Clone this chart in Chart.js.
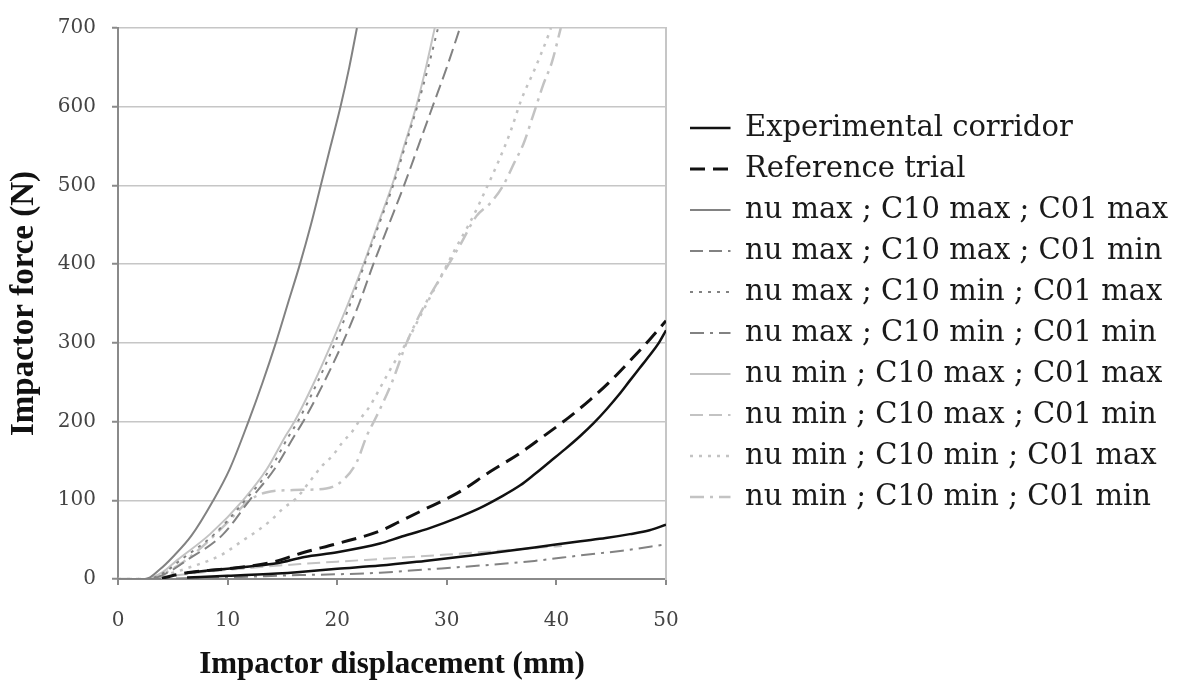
<!DOCTYPE html>
<html>
<head>
<meta charset="utf-8">
<script src="https://cdn.jsdelivr.net/npm/chart.js@4.4.1/dist/chart.umd.min.js"></script>
<style>
html,body{margin:0;padding:0;background:#fff;}
#wrap{width:1198px;height:689px;}
</style>
</head>
<body>
<div id="wrap"><canvas id="c" width="1198" height="689"></canvas></div>
<script>
// ---------- tick labels ----------
const xTickValues = [0, 10, 20, 30, 40, 50];
const xTickLabels = ['0', '10', '20', '30', '40', '50'];
const yTickValues = [0, 100, 200, 300, 400, 500, 600, 700];
const yTickLabels = ['0', '100', '200', '300', '400', '500', '600', '700'];

// ---------- series labels ----------
const seriesLabels = [
  'Experimental corridor',
  'Experimental corridor',
  'Reference trial',
  'nu max ; C10 max ; C01 max',
  'nu max ; C10 max ; C01 min',
  'nu max ; C10 min ; C01 max',
  'nu max ; C10 min ; C01 min',
  'nu min ; C10 max ; C01 max',
  'nu min ; C10 max ; C01 min',
  'nu min ; C10 min ; C01 max',
  'nu min ; C10 min ; C01 min'
];

// ---------- series values (displacement mm, force N) ----------
const corridorUpperX = [6.3, 8.4, 10, 12, 14.5, 17, 20, 23.9, 25.7, 28.5, 31, 33, 34.9, 36.7, 38, 39.4, 40.8, 42.2, 43.4, 44.6, 45.7, 46.7, 47.6, 48.5, 49.3, 50];
const corridorUpperY = [8, 11, 13, 16, 20, 28, 34, 45, 53, 65, 78, 90, 104, 119, 133, 149, 165, 182, 198, 216, 234, 252, 268, 284, 299, 316];

const corridorLowerX = [6.3, 10, 14.5, 16.6, 20, 23.9, 28, 33, 38, 42.2, 44.5, 46.7, 48.5, 50];
const corridorLowerY = [2, 4, 7, 9, 13, 17, 23, 31, 40, 48, 52, 57, 62, 69];

const referenceX = [4, 6.3, 10, 14, 17, 20, 23.9, 25.7, 27.6, 31.2, 33.9, 36.7, 38.5, 41.2, 43.1, 44.9, 46.7, 48.5, 50];
const referenceY = [1, 8, 13, 21, 34, 45, 61, 73, 86, 111, 136, 160, 178, 206, 228, 251, 277, 304, 328];

const nuMaxC10MaxC01MaxX = [0, 2.5, 3.8, 5.0, 6.7, 8.7, 10.2, 11.9, 13.2, 14.4, 15.5, 16.6, 17.6, 18.5, 19.4, 20.3, 21.1, 21.8];
const nuMaxC10MaxC01MaxY = [0, 0, 12, 28, 55, 100, 140, 200, 250, 300, 350, 400, 450, 500, 550, 600, 650, 700];

const clusterY = [0, 0, 8, 24, 57, 100, 140, 182, 200, 250, 300, 350, 400, 450, 500, 550, 600, 650, 700];
const nuMaxC10MaxC01MinX = [0, 2.8, 4.5, 6.3, 9.6, 12.0, 14.3, 16.1, 16.9, 18.8, 20.5, 22.0, 23.3, 24.7, 26.1, 27.4, 28.7, 30.0, 31.2];
const nuMaxC10MinC01MaxX = [0, 2.7, 4.2, 5.7, 8.8, 11.6, 13.9, 15.6, 16.4, 18.2, 19.8, 21.2, 22.5, 23.8, 25.1, 26.2, 27.3, 28.3, 29.2];
const nuMinC10MaxC01MaxX = [0, 2.5, 4.0, 5.4, 8.4, 11.4, 13.6, 15.3, 16.1, 17.9, 19.5, 21.0, 22.4, 23.7, 25.0, 26.1, 27.2, 28.1, 28.9];

const nuMaxC10MinC01MinX = [0, 3, 6, 10, 16.6, 20, 23.9, 28, 33, 38, 42.2, 46, 50];
const nuMaxC10MinC01MinY = [0, 0, 1, 2, 5, 6, 8, 12, 17, 23, 30, 36, 44];

const nuMinC10MaxC01MinX = [0, 3, 5, 8, 12, 16.6, 20, 25.7, 30, 34.9, 38.5, 40.5];
const nuMinC10MaxC01MinY = [0, 0, 4, 9, 14, 19, 22, 27, 31, 36, 40, 42];

const nuMinC10MinC01MaxX = [0, 2.5, 4, 5.5, 7, 8.4, 9.6, 11.4, 12.7, 13.9, 15.1, 16.3, 17.5, 18.7, 19.6, 20.5, 21.3, 22.2, 23.0, 24.0, 25.0, 26.3, 27.8, 29.3, 30.8, 32.0, 32.8, 33.5, 34.7, 35.8, 36.8, 38.0, 39.3, 39.5];
const nuMinC10MinC01MaxY = [0, 0, 4, 10, 17, 24, 32, 49, 61, 74, 90, 103, 124, 145, 157, 174, 186, 205, 220, 245, 270, 300, 340, 380, 420, 450, 472, 493, 530, 568, 609, 647, 692, 700];

const nuMinC10MinC01MinX = [0, 2.5, 4, 6, 8, 10, 12, 13.5, 16, 19, 20.4, 21.8, 22.7, 23.6, 25, 26.3, 27.5, 28.5, 30.3, 31.2, 32.7, 34, 35.1, 36.2, 37, 37.9, 38.8, 39.6, 40.4];
const nuMinC10MinC01MinY = [0, 0, 6, 22, 45, 72, 100, 110, 113, 115, 124, 149, 182, 207, 250, 299, 335, 361, 403, 424, 461, 478, 499, 530, 553, 590, 628, 657, 700];

// ---------- helpers ----------
const toPts = (xs, ys) => xs.map((x, i) => ({x: x, y: ys[i]}));

const BLACK = '#111111';
const DARK = '#828282';
const LIGHT = '#c3c3c3';
const DASH = [13, 6];
const DOT = [3, 6];
const DASHDOT = [14, 6, 3, 6];

function ds(i, xs, ys, color, width, dash) {
  return {
    label: seriesLabels[i],
    data: toPts(xs, ys),
    borderColor: color,
    backgroundColor: color,
    borderWidth: width,
    borderDash: dash,
    pointRadius: 0,
    pointHoverRadius: 0,
    fill: false,
    cubicInterpolationMode: 'monotone'
  };
}

const datasets = [
  ds(0, corridorUpperX, corridorUpperY, BLACK, 2.5, []),
  ds(1, corridorLowerX, corridorLowerY, BLACK, 2.5, []),
  ds(2, referenceX, referenceY, BLACK, 3, [15, 8]),
  ds(3, nuMaxC10MaxC01MaxX, nuMaxC10MaxC01MaxY, DARK, 2, []),
  ds(4, nuMaxC10MaxC01MinX, clusterY, DARK, 2, DASH),
  ds(5, nuMaxC10MinC01MaxX, clusterY, DARK, 2, DOT),
  ds(6, nuMaxC10MinC01MinX, nuMaxC10MinC01MinY, DARK, 2, DASHDOT),
  ds(7, nuMinC10MaxC01MaxX, clusterY, LIGHT, 2, []),
  ds(8, nuMinC10MaxC01MinX, nuMinC10MaxC01MinY, LIGHT, 2, DASH),
  ds(9, nuMinC10MinC01MaxX, nuMinC10MinC01MaxY, LIGHT, 2.5, DOT),
  ds(10, nuMinC10MinC01MinX, nuMinC10MinC01MinY, LIGHT, 2.5, DASHDOT)
];

const tickFont = {family: 'DejaVu Serif', size: 20};

// lets the legend text run to the right edge of the canvas
const legendWidener = {
  id: 'legendWidener',
  afterLayout(chart) {
    const L = chart.legend;
    if (L) { L.right = chart.width; L.width = L.right - L.left; }
  }
};

new Chart(document.getElementById('c'), {
  type: 'line',
  data: {datasets: datasets},
  plugins: [legendWidener],
  options: {
    responsive: false,
    animation: false,
    devicePixelRatio: 1,
    layout: {padding: {left: 0, top: 19, right: 420, bottom: 0}},
    plugins: {
      tooltip: {enabled: false},
      legend: {
        position: 'right',
        align: 'start',
        maxWidth: 100,
        title: {display: true, text: '', padding: {top: 72.5, bottom: 0}, font: {size: 10, lineHeight: 1}},
        labels: {
          usePointStyle: true,
          pointStyle: 'line',
          pointStyleWidth: 40.5,
          padding: 12,
          color: '#1a1a1a',
          font: {family: 'DejaVu Serif', size: 29},
          generateLabels: (chart) => chart.data.datasets.map((d, i) => ({
            text: d.label,
            strokeStyle: d.borderColor,
            fillStyle: d.borderColor,
            lineWidth: d.borderWidth,
            lineDash: d.borderDash,
            lineCap: 'butt',
            pointStyle: 'line',
            fontColor: '#1a1a1a',
            hidden: false,
            datasetIndex: i
          })),
          filter: (item) => item.datasetIndex !== 1
        }
      }
    },
    scales: {
      x: {
        type: 'linear',
        position: 'bottom',
        min: 0,
        max: 50,
        afterFit: (s) => { s.height = 110; },
        afterBuildTicks: (s) => { s.ticks = xTickValues.map(v => ({value: v})); },
        grid: {display: true, drawOnChartArea: false, drawTicks: true, tickLength: 6, color: '#8a8a8a', lineWidth: 2},
        border: {display: true, color: '#8a8a8a', width: 2},
        ticks: {
          padding: 24, font: tickFont, color: '#444', maxRotation: 0, autoSkip: false,
          callback: (v) => { const i = xTickValues.indexOf(v); return i >= 0 ? xTickLabels[i] : ''; }
        },
        title: {display: true, text: 'Impactor displacement (mm)', color: '#111',
          font: {family: 'Liberation Serif', size: 31, weight: 'bold'}, padding: {top: 0, bottom: 5}}
      },
      y: {
        type: 'linear',
        position: 'left',
        min: 0,
        max: 700,
        afterFit: (s) => { s.width = 118; },
        afterBuildTicks: (s) => { s.ticks = yTickValues.map(v => ({value: v})); },
        grid: {color: '#c6c6c6', lineWidth: 1.5, drawTicks: true, tickLength: 6, tickColor: '#8a8a8a', tickWidth: 2},
        border: {display: true, color: '#8a8a8a', width: 2},
        ticks: {
          padding: 16, font: tickFont, color: '#444', autoSkip: false,
          callback: (v) => { const i = yTickValues.indexOf(v); return i >= 0 ? yTickLabels[i] : ''; }
        },
        title: {display: true, text: 'Impactor force (N)', color: '#111',
          font: {family: 'Liberation Serif', size: 33, weight: 'bold'}, padding: {top: 5, bottom: 0}}
      },
      y2: {
        type: 'linear',
        position: 'right',
        display: true,
        min: 0,
        max: 700,
        afterFit: (s) => { s.width = 12; },
        grid: {display: false, drawTicks: false},
        ticks: {display: false},
        border: {display: true, color: '#c6c6c6', width: 2}
      }
    }
  }
});
</script>
</body>
</html>
